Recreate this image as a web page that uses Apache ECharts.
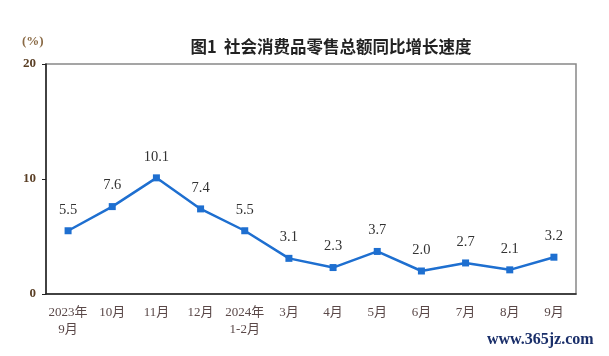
<!DOCTYPE html>
<html><head><meta charset="utf-8">
<script src="https://cdn.jsdelivr.net/npm/echarts@6/dist/echarts.min.js"></script>
<style>html,body{margin:0;padding:0;background:#fff}#c{width:609px;height:356px}</style>
</head><body><div id="c"></div>
<script>
const categories = ['2023年\n9月','10月','11月','12月','2024年\n1-2月','3月','4月','5月','6月','7月','8月','9月'];
const growth = [5.5, 7.6, 10.1, 7.4, 5.5, 3.1, 2.3, 3.7, 2.0, 2.7, 2.1, 3.2];
const yTicks = [0, 10, 20];
const titleText = '图1  社会消费品零售总额同比增长速度';
const unitText = '(%)';
const watermark = 'www.365jz.com';

const chart = echarts.init(document.getElementById('c'));
chart.setOption({
  animation: false,
  backgroundColor: '#fff',
  title: {
    text: titleText, left: 326, top: 33, textAlign: 'center',
    textStyle: {fontFamily: '"Noto Sans CJK SC"', fontSize: 16.5, fontWeight: 'bold', color: '#222'}
  },
  graphic: [
    {type: 'text', left: 22, top: 35, style: {text: unitText, font: 'bold 13px "Liberation Serif", "Noto Sans CJK SC"', fill: '#8a6a45'}},
    {type: 'text', left: 487, top: 332, style: {text: watermark, font: 'bold 16px "Liberation Serif"', fill: '#1a2f6a'}}
  ],
  grid: {left: 46, right: 33, top: 64, bottom: 62, show: true, borderColor: '#888', borderWidth: 1.5},
  xAxis: {
    type: 'category', data: categories, boundaryGap: true,
    axisLine: {lineStyle: {color: '#222', width: 1.5}},
    axisTick: {inside: true, length: 5, lineStyle: {color: '#222'}},
    axisLabel: {fontFamily: '"Liberation Serif", "Noto Sans CJK SC"', fontSize: 13, color: '#5a4848', margin: 10, lineHeight: 17, interval: 0}
  },
  yAxis: {
    type: 'value', min: 0, max: 20, interval: 10,
    splitLine: {show: false},
    axisLine: {show: true, lineStyle: {color: '#222', width: 1.5}},
    axisTick: {show: true, length: 4, lineStyle: {color: '#222'}},
    axisLabel: {fontFamily: '"Liberation Serif"', fontSize: 13, fontWeight: 'bold', color: '#5a3f25', margin: 10,
      formatter: v => yTicks.includes(v) ? String(v) : ''}
  },
  series: [{
    type: 'line', data: growth,
    symbol: 'rect', symbolSize: 7,
    lineStyle: {color: '#1e6fd0', width: 2.5},
    itemStyle: {color: '#1e6fd0'},
    label: {show: true, position: 'top', distance: 10, formatter: p => p.value.toFixed(1),
      fontFamily: '"Liberation Serif"', fontSize: 14.5, color: '#333'}
  }]
});
</script></body></html>
